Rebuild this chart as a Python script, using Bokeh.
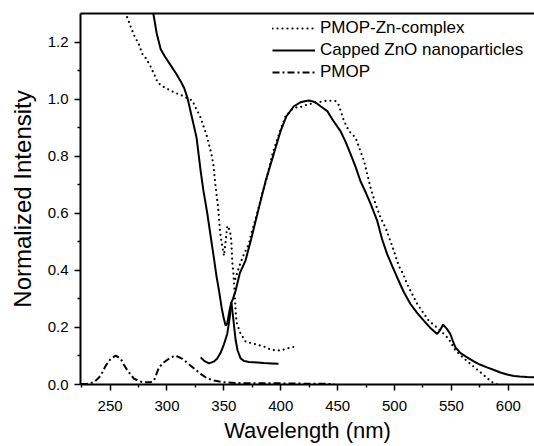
from bokeh.plotting import figure
from bokeh.models import Range1d, LinearAxis, FixedTicker, Legend, LegendItem, PrintfTickFormatter
from bokeh.embed import file_html
from bokeh.resources import INLINE

# Capped ZnO nanoparticles - excitation segment
zno_exc_nm = [286, 288, 291, 294.5, 298, 303, 308, 312, 315, 318, 322, 326, 329.6, 332,
              335.5, 338, 341, 343.5, 345.7, 348, 350, 351.6, 353, 355, 356.6, 358,
              360.4, 362, 364.8, 368, 372, 376, 385, 392, 398]
zno_exc_val = [1.36, 1.30, 1.23, 1.175, 1.15, 1.12, 1.09, 1.063, 1.04, 1.005, 0.935, 0.865,
               0.748, 0.68, 0.598, 0.53, 0.45, 0.38, 0.33, 0.27, 0.23, 0.206, 0.215, 0.26,
               0.288, 0.24, 0.154, 0.12, 0.091, 0.082, 0.079, 0.078, 0.075, 0.074, 0.073]

# Capped ZnO nanoparticles - emission segment
zno_em_nm = [329.6, 333, 337, 341, 344, 347, 350, 353, 355, 356.6, 358, 360.4, 364, 369,
             374, 379.4, 386.7, 394, 400, 405, 411.5, 418, 424.7, 430, 435, 440.9, 446,
             452.5, 457, 461.3, 466, 470, 475, 479, 484.8, 489, 493.5, 498, 502.3, 508,
             514, 520, 525.7, 531, 537.4, 540, 542.7, 546, 549, 551, 553.5, 558, 563.8,
             570, 575, 581.3, 588, 593, 598.9, 605, 610, 616.5, 623]
zno_em_val = [0.095, 0.082, 0.074, 0.08, 0.09, 0.11, 0.14, 0.178, 0.23, 0.288, 0.30, 0.33,
              0.39, 0.434, 0.51, 0.597, 0.713, 0.81, 0.89, 0.94, 0.975, 0.99, 0.995, 0.99,
              0.975, 0.958, 0.925, 0.888, 0.85, 0.808, 0.76, 0.713, 0.67, 0.633, 0.573,
              0.51, 0.457, 0.415, 0.375, 0.325, 0.282, 0.25, 0.224, 0.2, 0.177, 0.19, 0.21,
              0.195, 0.177, 0.155, 0.13, 0.11, 0.095, 0.08, 0.07, 0.06, 0.05, 0.042, 0.035,
              0.03, 0.028, 0.026, 0.025]

# PMOP-Zn-complex - excitation segment
cplx_exc_nm = [262, 264.7, 268, 271, 275, 278.4, 281.3, 285, 289.2, 292, 297.4, 302.7, 307,
               311.5, 317, 322.3, 325.2, 329, 332, 334.6, 337, 339.3, 340.8, 342.5, 343.7,
               344.8, 346.3, 347.2, 348.7, 350.1, 351.5, 353, 355.4, 356.6, 357.4, 358.3,
               358.9, 359.5, 360.4, 361.2, 364.1, 369.1, 377, 385.2, 391.7, 399.9, 407.2, 415]
cplx_exc_val = [1.32, 1.29, 1.255, 1.224, 1.195, 1.158, 1.144, 1.119, 1.083, 1.057, 1.042,
                1.031, 1.022, 1.016, 1.005, 0.995, 0.97, 0.941, 0.906, 0.877, 0.839, 0.804,
                0.769, 0.702, 0.661, 0.626, 0.552, 0.517, 0.483, 0.451, 0.50, 0.556, 0.538,
                0.50, 0.428, 0.393, 0.358, 0.323, 0.253, 0.218, 0.183, 0.15, 0.142, 0.133,
                0.121, 0.119, 0.128, 0.135]

# PMOP-Zn-complex - emission segment
cplx_em_nm = [360, 362, 364.8, 368, 372, 374, 379.4, 383.8, 386.7, 392.6, 398.4, 404.2,
              411.5, 417.4, 423.3, 430.6, 440.9, 448.2, 451, 455.6, 460, 465.7, 470, 473.2,
              476, 478.9, 483.3, 487.7, 492, 497.9, 503.7, 507.6, 511, 519.9, 530, 540.3,
              547.6, 553.5, 560, 566.7, 575.4, 585.7, 590]
cplx_em_val = [0.37, 0.395, 0.428, 0.46, 0.492, 0.527, 0.602, 0.672, 0.707, 0.806, 0.877,
               0.94, 0.97, 0.972, 0.981, 0.987, 0.995, 0.993, 0.979, 0.923, 0.888, 0.865,
               0.818, 0.783, 0.737, 0.69, 0.632, 0.585, 0.55, 0.486, 0.416, 0.387, 0.352,
               0.282, 0.224, 0.189, 0.16, 0.119, 0.095, 0.072, 0.043, 0.008, 0.0]

# PMOP
pmop_nm = [224.3, 230, 236, 241.8, 246.2, 250.6, 255, 259.4, 262, 265.3, 271, 278.4, 285.7,
           288.6, 293, 297.4, 303.3, 307.7, 313.6, 320.9, 329.6, 335, 341.3, 350, 360, 380,
           400, 420, 447]
pmop_val = [0.002, 0.003, 0.008, 0.031, 0.066, 0.09, 0.101, 0.09, 0.07, 0.049, 0.02, 0.008,
            0.008, 0.014, 0.06, 0.078, 0.095, 0.101, 0.09, 0.066, 0.037, 0.022, 0.014, 0.008,
            0.005, 0.004, 0.004, 0.003, 0.002]

x_ticks = [250, 300, 350, 400, 450, 500, 550, 600]
x_minor = [225, 275, 325, 375, 425, 475, 525, 575, 625]
y_ticks = [0.0, 0.2, 0.4, 0.6, 0.8, 1.0, 1.2]
y_minor = [0.1, 0.3, 0.5, 0.7, 0.9, 1.1]

FONT = "Liberation Sans"

p = figure(width=534, height=446, output_backend="svg", toolbar_location=None,
           x_range=Range1d(224, 623), y_range=Range1d(0, 1.3),
           min_border_left=80, min_border_right=0, min_border_top=13, min_border_bottom=62)
p.grid.visible = False
p.outline_line_color = None
p.background_fill_color = "white"
p.border_fill_color = "white"

DOT = dict(line_color="black", line_width=2.2, line_dash="0 5", line_cap="round")
r_dot1 = p.line(cplx_exc_nm, cplx_exc_val, **DOT)
r_dot2 = p.line(cplx_em_nm, cplx_em_val, **DOT)
r_sol1 = p.line(zno_exc_nm, zno_exc_val, line_color="black", line_width=2)
r_sol2 = p.line(zno_em_nm, zno_em_val, line_color="black", line_width=2)
r_dd = p.line(pmop_nm, pmop_val, line_color="black", line_width=2, line_dash="7 3 2 3")

for ax, ticks, minor in ((p.xaxis[0], x_ticks, x_minor), (p.yaxis[0], y_ticks, y_minor)):
    ax.ticker = FixedTicker(ticks=ticks, minor_ticks=minor)
    ax.axis_line_width = 2
    ax.axis_line_color = "black"
    ax.major_tick_line_color = "black"
    ax.minor_tick_line_color = "black"
    ax.major_tick_line_width = 1.5
    ax.minor_tick_line_width = 1.5
    ax.major_tick_out = 6
    ax.major_tick_in = 0
    ax.minor_tick_out = 3
    ax.minor_tick_in = 0
    ax.major_label_text_font = FONT
    ax.major_label_text_font_size = "15px"
    ax.major_label_text_color = "black"
    ax.axis_label_text_font = FONT
    ax.axis_label_text_font_style = "normal"
    ax.axis_label_text_color = "black"

p.yaxis[0].formatter = PrintfTickFormatter(format="%.1f")
p.xaxis[0].axis_label = "Wavelength (nm)"
p.xaxis[0].axis_label_text_font_size = "22px"
p.xaxis[0].major_label_standoff = 10
p.xaxis[0].axis_label_standoff = 4
p.yaxis[0].axis_label = "Normalized Intensity"
p.yaxis[0].axis_label_text_font_size = "24px"
p.yaxis[0].major_label_standoff = 6
p.yaxis[0].axis_label_standoff = 9

top = LinearAxis(ticker=FixedTicker(ticks=[]), axis_line_width=2, axis_line_color="black",
                 major_tick_out=0, minor_tick_out=0, major_label_standoff=0,
                 major_label_text_font_size="0px")
p.add_layout(top, "above")

legend = Legend(items=[
    LegendItem(label="PMOP-Zn-complex", renderers=[r_dot1]),
    LegendItem(label="Capped ZnO nanoparticles", renderers=[r_sol1]),
    LegendItem(label="PMOP", renderers=[r_dd]),
], location=(192, 301), padding=0, margin=0, spacing=0,
    glyph_width=43, glyph_height=22, label_height=22, label_standoff=5,
    label_text_font=FONT, label_text_font_size="17px", label_text_color="black",
    border_line_color=None, background_fill_alpha=0)
p.add_layout(legend, "center")

open("out.html", "w").write(file_html(p, INLINE))
